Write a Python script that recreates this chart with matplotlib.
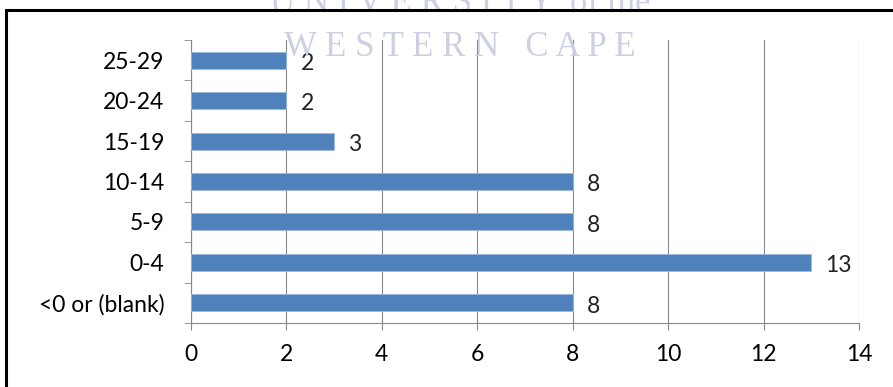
import matplotlib
matplotlib.use("Agg")
import matplotlib.pyplot as plt
from matplotlib.patches import Rectangle

categories = ["<0 or (blank)", "0-4", "5-9", "10-14", "15-19", "20-24", "25-29"]
values = [8, 13, 8, 8, 3, 2, 2]
xticks = [0, 2, 4, 6, 8, 10, 12, 14]

plt.rcParams['font.family'] = ['Lato', 'DejaVu Sans']
FS = 16.5

fig = plt.figure(figsize=(8.93, 3.87), dpi=100)
ax = fig.add_axes([191/893, 1-323/387, (859-191)/893, (323-40)/387])

y = list(range(len(categories)))
ax.barh(y, values, height=0.42, color="#4F81BD", edgecolor="#9DB9DE", linewidth=0.6, zorder=3)
for yi, v in zip(y, values):
    ax.text(v + 0.3, yi - 0.08, str(v), va="center", ha="left", fontsize=FS, color="#222222")

ax.set_xlim(0, 14)
ax.set_ylim(-0.5, len(categories) - 0.5)
ax.set_xticks(xticks)
ax.set_xticklabels([str(t) for t in xticks], fontsize=FS)
ax.set_yticks(y)
ax.set_yticklabels(categories, fontsize=FS)
ax.set_yticks([i - 0.5 for i in range(len(categories) + 1)], minor=True)
ax.tick_params(axis="y", which="major", length=0, pad=19)
ax.tick_params(axis="y", which="minor", length=5, color="#888888", direction="out")
ax.tick_params(axis="x", which="major", length=5, color="#888888", direction="out", pad=10)
ax.grid(axis="x", color="#888888", linewidth=0.8, zorder=0)
for s in ["top", "right"]:
    ax.spines[s].set_visible(False)
for s in ["left", "bottom"]:
    ax.spines[s].set_color("#888888")
    ax.spines[s].set_linewidth(0.8)

# watermark
fig.text(460/893, 1-4/387, "U N I V E R S I T Y  of the", ha="center", va="center", fontsize=25,
         family="Liberation Serif", color="#cdd0e2", zorder=0)
fig.text(460/893, 1-48/387, "W E S T E R N   C A P E", ha="center", va="center", fontsize=25,
         family="Liberation Serif", color="#cdd0e2", zorder=0)

# frame
fig.patches.append(Rectangle((6/893, -0.05), 1.1, 1 - 10/387 + 0.05, transform=fig.transFigure,
                             fill=False, edgecolor="black", linewidth=2.2))

fig.savefig("out.png", dpi=100)
